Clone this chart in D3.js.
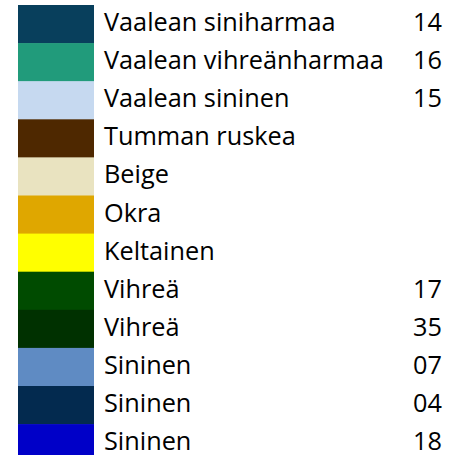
<!DOCTYPE html>
<html>
<head>
<meta charset="utf-8">
<script src="https://cdn.jsdelivr.net/npm/d3@7"></script>
<style>
  body { margin: 0; background: #ffffff; }
  text { font-family: "Open Sans", sans-serif; fill: #000; }
</style>
</head>
<body>
<div id="chart"></div>
<script>
// colour names (Finnish), codes and swatch colours
var labels = [
  "Vaalean siniharmaa", "Vaalean vihreänharmaa", "Vaalean sininen",
  "Tumman ruskea", "Beige", "Okra", "Keltainen",
  "Vihreä", "Vihreä", "Sininen", "Sininen", "Sininen"
];
var codes = ["14", "16", "15", "", "", "", "", "17", "35", "07", "04", "18"];
var colors = [
  "#083f5c", "#219b7b", "#c6d9f0", "#4e2800", "#e9e3c0", "#dfa700",
  "#ffff00", "#004b00", "#003100", "#5f8bc3", "#032a4f", "#0000c8"
];

var width = 456, height = 455;

var svg = d3.select("#chart")
  .append("svg")
  .attr("width", width)
  .attr("height", height);

// one band per row
var y = d3.scaleBand()
  .domain(d3.range(labels.length))
  .range([5, 5 + 38.1 * labels.length])
  .padding(0);

// swatches
svg.selectAll("rect.swatch")
  .data(colors)
  .enter()
  .append("rect")
  .attr("class", "swatch")
  .attr("x", 18)
  .attr("width", 76)
  .attr("y", function(d, i) { return y(i); })
  .attr("height", y.bandwidth() + 0.5)
  .attr("fill", function(d) { return d; });

// names
var names = svg.selectAll("text.label")
  .data(labels)
  .enter()
  .append("text")
  .attr("class", "label")
  .attr("x", 104)
  .attr("y", function(d, i) { return y(i) + 26; })
  .style("font-size", "20px")
  .text(function(d) { return d; });

// size the font so the longest name spans about 280px, like the original
var longest = d3.max(names.nodes(), function(n) { return n.getComputedTextLength(); });
var fs = 20 * 280 / longest;
names.style("font-size", fs + "px");

// codes
svg.selectAll("text.code")
  .data(codes)
  .enter()
  .append("text")
  .attr("class", "code")
  .attr("x", 442)
  .attr("y", function(d, i) { return y(i) + 26; })
  .style("font-size", fs + "px")
  .style("text-anchor", "end")
  .text(function(d) { return d; });
</script>
</body>
</html>
